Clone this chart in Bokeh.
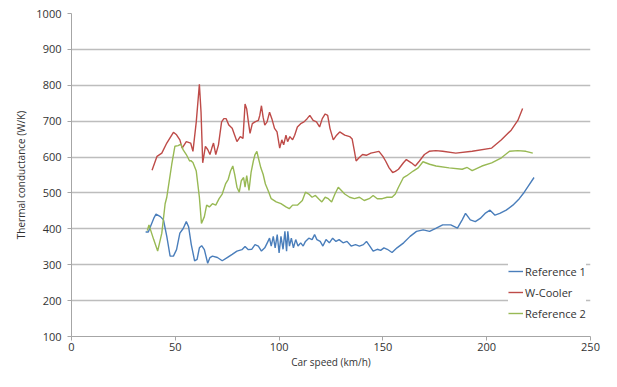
from bokeh.plotting import figure
from bokeh.models import Legend, LegendItem, FixedTicker, Range1d
from bokeh.embed import file_html
from bokeh.resources import INLINE

# ---- data ----
ref1_x = [35.7, 37.0, 38.0, 39.6, 40.7, 42.8, 44.3, 45.9, 47.5, 49.1, 50.6, 52.2, 53.8, 55.3, 56.4,
          57.7, 59.3, 60.5, 61.6, 62.7, 64.0, 65.6, 66.7, 67.9, 70.3, 72.6, 75.0, 77.4, 79.7, 82.1,
          83.6, 85.2, 86.8, 88.4, 90.0, 91.5, 93.1, 94.3, 95.4, 96.2, 97.2, 98.1, 99.1, 100.0, 100.9,
          101.9, 102.8, 103.6, 104.2, 105.0, 105.9, 106.9, 108.0, 109.1, 110.4, 111.6, 112.7, 114.3,
          115.9, 117.1, 118.2, 119.8, 121.1, 122.6, 124.2, 125.8, 127.4, 128.9, 130.8, 132.7, 134.7,
          136.8, 138.7, 140.6, 142.1, 143.7, 145.3, 147.3, 148.9, 150.5, 152.1, 154.4, 156.8, 160.0,
          163.1, 166.2, 169.4, 172.5, 175.7, 178.8, 182.7, 185.9, 188.2, 189.8, 192.1, 194.5, 196.9,
          199.2, 201.6, 204.0, 206.3, 209.4, 212.6, 215.7, 218.1, 219.7, 222.8]
ref1_y = [391, 391, 406, 429, 441, 434, 425, 379, 324, 324, 342, 388, 401, 420, 406,
          356, 311, 315, 347, 353, 342, 304, 320, 324, 320, 311, 320, 329, 338, 342,
          351, 342, 343, 356, 352, 338, 347, 361, 374, 352, 379, 347, 384, 333, 379,
          343, 393, 338, 393, 352, 374, 347, 370, 352, 361, 352, 365, 374,
          370, 384, 370, 365, 352, 370, 361, 374, 365, 370, 361, 365, 352,
          356, 352, 356, 365, 352, 338, 343, 340, 347, 343, 334, 347, 361,
          379, 393, 397, 393, 402, 411, 411, 402, 425, 443, 425, 420, 429,
          443, 452, 438, 443, 452, 466, 484, 502, 516, 543]

wcool_x = [38.8, 41.2, 43.5, 45.9, 49.1, 50.6, 52.2, 53.3, 55.3, 57.4, 58.5, 60.1, 61.6, 62.4, 63.2,
           64.5, 65.6, 66.7, 67.6, 68.4, 69.5, 70.8, 72.3, 73.4, 74.5, 75.8, 77.4, 78.6, 79.7, 81.3,
           82.6, 83.6, 84.4, 85.2, 86.0, 87.1, 88.4, 90.0, 90.7, 91.5, 92.3, 93.1, 94.2, 95.4, 96.5,
           97.8, 99.0, 100.3, 101.3, 102.2, 103.3, 104.1, 105.2, 106.5, 107.5, 108.8, 110.4, 112.0,
           113.5, 114.8, 116.4, 118.0, 119.5, 120.8, 122.2, 123.4, 124.5, 126.1, 127.7, 129.2, 131.6,
           134.0, 135.2, 136.3, 137.1, 138.5, 140.2, 142.0, 144.2, 148.1, 150.0, 151.3, 153.0, 154.7,
           156.0, 157.5, 159.9, 161.3, 163.7, 165.6, 167.6, 170.0, 172.3, 175.5, 178.8, 185.1, 193.0,
           202.4, 207.1, 211.8, 215.0, 217.3]
wcool_y = [563, 602, 611, 639, 669, 662, 648, 625, 643, 639, 616, 698, 803, 725, 584,
           630, 621, 607, 625, 639, 607, 634, 698, 707, 707, 689, 680, 661, 643, 657,
           652, 748, 734, 698, 666, 693, 698, 702, 716, 743, 711, 689, 698, 725, 707,
           680, 670, 625, 648, 634, 661, 643, 657, 648, 661, 684, 693, 698,
           707, 716, 702, 698, 684, 707, 720, 716, 680, 648, 661, 670, 661,
           657, 650, 616, 589, 598, 607, 605, 611, 616, 602, 589, 570, 557,
           560, 566, 584, 593, 584, 575, 589, 607, 616, 618, 616, 611, 616,
           625, 648, 675, 702, 735]

ref2_x = [36.5, 37.3, 39.6, 41.5, 43.5, 45.1, 45.9, 47.0, 48.3, 49.8, 51.4, 52.7, 53.8, 55.3, 56.9,
          57.5, 58.5, 60.1, 61.6, 62.6, 64.0, 65.1, 66.4, 67.9, 69.5, 71.1, 72.6, 74.2, 75.5, 76.6,
          77.7, 78.6, 79.7, 80.8, 81.8, 82.9, 83.6, 84.4, 85.5, 86.5, 87.6, 88.4, 89.3, 90.0, 91.2,
          92.3, 93.4, 94.7, 96.2, 98.6, 100.9, 103.3, 104.9, 106.5, 108.8, 111.2, 112.7, 114.3, 115.9,
          117.5, 119.0, 120.6, 122.2, 123.7, 125.3, 126.9, 128.5, 130.0, 131.6, 134.0, 136.3, 138.7,
          141.0, 143.4, 145.3, 147.3, 149.7, 152.0, 154.4, 156.0, 157.5, 159.9, 161.5, 164.6, 167.0,
          169.3, 172.5, 175.6, 181.9, 188.2, 190.6, 193.0, 197.7, 202.4, 207.1, 211.0, 215.0, 218.9, 222.2]
ref2_y = [395, 411, 370, 338, 388, 470, 488, 530, 580, 630, 632, 636, 620, 607, 589,
          590, 585, 561, 488, 415, 434, 466, 461, 470, 466, 484, 497, 525, 538, 561,
          575, 552, 516, 502, 534, 543, 516, 548, 507, 557, 589, 607, 616, 598, 570,
          552, 525, 507, 484, 475, 470, 461, 456, 466, 466, 479, 502, 497, 488,
          493, 484, 475, 488, 484, 475, 497, 516, 507, 497, 488, 484, 488,
          479, 484, 493, 484, 484, 488, 488, 497, 516, 543, 548, 561, 570,
          587, 580, 575, 570, 566, 571, 562, 575, 584, 598, 616, 618, 616, 611]

x_ticks = [0, 50, 100, 150, 200, 250]
y_ticks = [100, 200, 300, 400, 500, 600, 700, 800, 900, 1000]

FONT = "Open Sans"
TXT = "#333333"

p = figure(width=601, height=371, output_backend="svg", toolbar_location=None,
           x_range=Range1d(0, 250), y_range=Range1d(100, 1000),
           min_border_left=71, min_border_right=11, min_border_top=13, min_border_bottom=34)
p.outline_line_color = None
p.background_fill_color = "white"
p.border_fill_color = "white"

p.xgrid.grid_line_color = None
p.ygrid.grid_line_color = "#bdbdbd"
p.ygrid.grid_line_width = 1.3
p.ygrid.ticker = FixedTicker(ticks=y_ticks)

for ax in (p.xaxis[0], p.yaxis[0]):
    ax.axis_line_color = "#a6a6a6"
    ax.major_tick_line_color = "#a6a6a6"
    ax.major_tick_out = 4
    ax.major_tick_in = 0
    ax.minor_tick_line_color = None
    ax.major_label_text_font = FONT
    ax.major_label_text_font_size = "11px"
    ax.major_label_text_color = TXT
    ax.axis_label_text_font = FONT
    ax.axis_label_text_font_size = "10px"
    ax.axis_label_text_font_style = "normal"
    ax.axis_label_text_color = TXT

p.xaxis[0].ticker = FixedTicker(ticks=x_ticks)
p.yaxis[0].ticker = FixedTicker(ticks=y_ticks)
p.xaxis[0].axis_label = "Car speed (km/h)"
p.yaxis[0].axis_label = "Thermal conductance (W/K)"
p.xaxis[0].major_label_standoff = 2
p.xaxis[0].axis_label_standoff = 1
p.yaxis[0].major_label_standoff = 6
p.yaxis[0].axis_label_standoff = 5

r1 = p.line(ref1_x, ref1_y, line_color="#4a7ebb", line_width=1.4)
r2 = p.line(wcool_x, wcool_y, line_color="#be4b48", line_width=1.4)
r3 = p.line(ref2_x, ref2_y, line_color="#98b954", line_width=1.4)

legend = Legend(items=[LegendItem(label="Reference 1", renderers=[r1]),
                       LegendItem(label="W-Cooler", renderers=[r2]),
                       LegendItem(label="Reference 2", renderers=[r3])],
                location=(437, 15), orientation="vertical",
                label_text_font=FONT, label_text_font_size="11px", label_text_color=TXT,
                glyph_width=15, glyph_height=16, label_height=16, label_standoff=2,
                spacing=5, padding=6, margin=0,
                border_line_color=None, background_fill_color="white", background_fill_alpha=1.0)
p.add_layout(legend)

open("out.html", "w").write(file_html(p, INLINE))
